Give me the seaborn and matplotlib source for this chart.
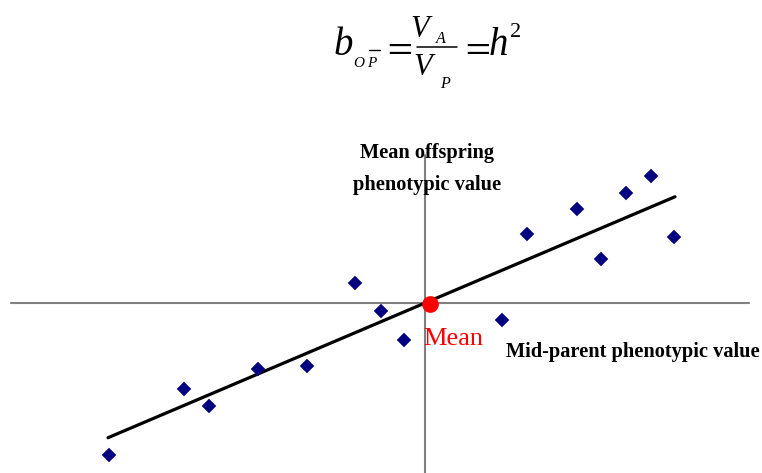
import numpy as np
import pandas as pd
import matplotlib
matplotlib.use("Agg")
import matplotlib.pyplot as plt
from matplotlib.lines import Line2D
import seaborn as sns

# Mid-parent phenotypic value (deviation from mean) and mean offspring value
mid_parent = [-31.6, -24.1, -21.6, -16.7, -11.8, -7.0, -4.4, -2.1,
              7.7, 10.2, 15.2, 17.6, 20.1, 22.6, 24.9]
offspring = [-15.2, -8.6, -10.3, -6.6, -6.3, 2.0, -0.8, -3.7,
             -1.7, 6.9, 9.4, 4.4, 11.0, 12.7, 6.6]

# Regression of offspring on mid-parent: slope = h^2
slope = 0.425
line_x = [-31.7, 25.0]

mean_point = (0.5, -0.05)

df = pd.DataFrame({"mid_parent": mid_parent, "offspring": offspring})
fit = pd.DataFrame({"x": line_x, "y": [slope * v for v in line_x]})

sns.set_theme(style="white")
plt.rcParams["mathtext.fontset"] = "stix"
plt.rcParams["font.family"] = ["Liberation Serif", "DejaVu Serif"]
plt.rcParams["text.color"] = "black"

W, H = 762, 473
fig = plt.figure(figsize=(W / 100, H / 100), dpi=100)
ax = fig.add_axes([0, 0, 1, 1])
ax.set_xlim(-42.5, 33.7)
ax.set_ylim(-17.0, 30.3)
ax.axis("off")

# Coordinate axes through the mean
axis_col = "#808080"
ax.plot([-41.4, 32.4], [0, 0], color=axis_col, lw=1.5, zorder=1)
ax.plot([0, 0], [-17.0, 14.8], color=axis_col, lw=1.5, zorder=1)

sns.lineplot(data=fit, x="x", y="y", color="black", lw=2.3, ax=ax, zorder=2)
sns.scatterplot(data=df, x="mid_parent", y="offspring", marker="D", s=55,
                color="#000080", edgecolor="none", ax=ax, zorder=3)
ax.plot(*mean_point, "o", color="red", ms=11, zorder=4)

ax.text(-0.2, -3.6, "Mean", color="red", fontsize=19,
        ha="left", va="center")
ax.text(0.2, 13.4, "Mean offspring\nphenotypic value", fontsize=14.7,
        fontweight="bold", ha="center", va="center", linespacing=1.8)
ax.text(8.1, -4.9, "Mid-parent phenotypic value", fontsize=14.7,
        fontweight="bold", ha="left", va="center")


# Heritability formula, set piece by piece in figure pixel units
def put(x, y, s, size, ha="left", va="baseline", style="italic"):
    fig.text(x / W, 1 - y / H, s, fontsize=size, ha=ha, va=va,
             style=style)


def hline(x0, x1, y, lw):
    fig.add_artist(Line2D([x0 / W, x1 / W], [1 - y / H, 1 - y / H],
                          color="black", lw=lw, transform=fig.transFigure))


put(334, 55, "b", 28)
put(353, 67, "O", 11)
put(367, 67, "P", 11)
hline(369, 380, 50, 1.0)
put(397, 47, r"$=$", 26, ha="center", va="center", style="normal")
put(410, 37, "V", 22)
put(436, 43, "A", 11.5)
hline(417, 457, 47, 1.1)
put(413, 75, "V", 22)
put(440, 88, "P", 11.5)
put(475, 47, r"$=$", 26, ha="center", va="center", style="normal")
put(489, 55, "h", 28)
put(510, 37, "2", 16, style="normal")

fig.savefig("out.png", dpi=100)
